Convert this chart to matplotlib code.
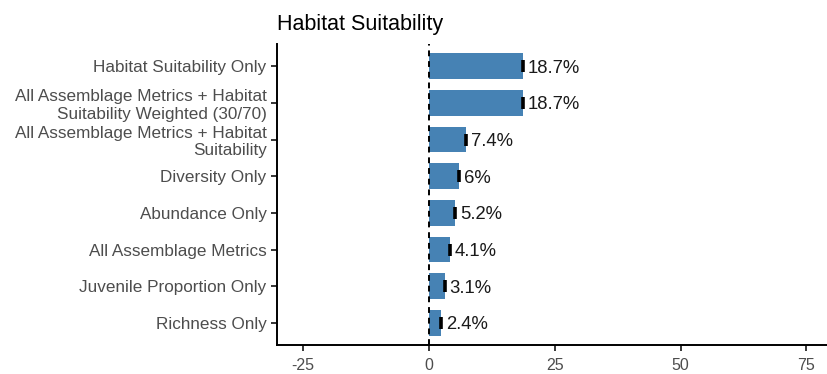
import numpy as np
import matplotlib
matplotlib.use("Agg")
import matplotlib.pyplot as plt

# data, top to bottom as shown
categories = [
    "Habitat Suitability Only",
    "All Assemblage Metrics + Habitat\nSuitability Weighted (30/70)",
    "All Assemblage Metrics + Habitat\nSuitability",
    "Diversity Only",
    "Abundance Only",
    "All Assemblage Metrics",
    "Juvenile Proportion Only",
    "Richness Only",
]
values = [18.7, 18.7, 7.4, 6.0, 5.2, 4.1, 3.1, 2.4]
xticks = [-25, 0, 25, 50, 75]

plt.rcParams['font.family'] = ['Liberation Sans', 'DejaVu Sans']

fig = plt.figure(figsize=(8.28, 3.74), dpi=100)
ax = fig.add_axes([0.3345, 0.0775, 0.665, 0.8045])

y = np.arange(len(categories))[::-1]
ax.barh(y, values, height=0.7, color="#4682B4", zorder=2)
# small error marks at bar ends
ax.plot(values, y, ls="none", marker="|", markersize=8.5, mew=2.6, color="black", zorder=3)
ax.axvline(0, color="black", ls=(0, (3, 2.5)), lw=1.4, zorder=4)

for v, yy in zip(values, y):
    ax.text(v + 1.0, yy, f"{v:g}%", va="center_baseline", ha="left", fontsize=13.3, color="#1a1a1a")

ax.set_xlim(-30.2, 79.2)
ax.set_ylim(-0.6, len(categories) - 0.4)
ax.set_xticks(xticks)
ax.set_xticklabels([str(t) for t in xticks])
ax.set_yticks(y)
ax.set_yticklabels(categories, ha="right", multialignment="right", fontsize=12.3)

for s in ["top", "right"]:
    ax.spines[s].set_visible(False)
for s in ["left", "bottom"]:
    ax.spines[s].set_linewidth(1.4)
    ax.spines[s].set_color("black")
ax.tick_params(axis="both", length=4.5, width=1.1, colors="black", labelcolor="#4D4D4D", pad=3)
ax.tick_params(axis="x", labelsize=11.5, pad=4.5)

ax.set_title("Habitat Suitability", loc="left", fontsize=15.5, pad=10, x=0.0)

fig.savefig("out.png", dpi=100)
